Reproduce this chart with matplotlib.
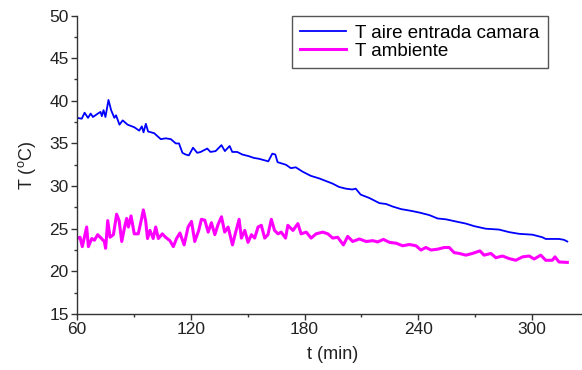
import matplotlib
matplotlib.use("Agg")
import matplotlib.pyplot as plt
from matplotlib.ticker import MultipleLocator

plt.rcParams['font.family'] = ['Liberation Sans', 'DejaVu Sans']

# T aire entrada camara (blue)
t_aire = [60, 62.5, 64, 65.8, 67.2, 68.4, 71, 72.4, 73.1, 74, 75, 76.6, 78, 79.7,
          80.6, 82.4, 84.1, 86.7, 90.2, 92.8, 94.2, 95.1, 96.3, 97.5, 100.7, 104.2,
          106.8, 109.5, 112.1, 113.8, 115.6, 117.3, 119, 121.2, 123.4, 125.2, 128.7,
          130.4, 133.1, 136.2, 138, 140.5, 141.9, 144.5, 147.2, 150.7, 153.3, 156,
          160.9, 163, 164.6, 165.8, 170.2, 172.8, 175.4, 178.9, 183.3, 187.7, 191.2,
          194.7, 198.2, 201.7, 205.2, 207, 209.6, 214.2, 219.5, 223, 226.5, 230.9,
          236.1, 240.5, 245.8, 250.2, 254.6, 259.8, 265.1, 269.5, 275.6, 282.6,
          287.9, 293.2, 300.2, 305.4, 307.2, 314.2, 316.8, 318.6]
T_aire = [38.0, 37.9, 38.6, 38.0, 38.5, 38.1, 38.5, 38.7, 38.2, 38.9, 38.1, 40.1, 38.9, 38.0,
          38.3, 37.2, 37.7, 37.2, 36.9, 36.5, 37.0, 36.3, 37.3, 36.4, 36.2, 35.5,
          35.6, 35.5, 35.0, 35.0, 33.9, 33.7, 33.6, 34.5, 33.9, 34.0, 34.4,
          34.0, 34.1, 34.8, 34.1, 34.7, 34.0, 34.0, 33.7, 33.5, 33.3, 33.2,
          32.9, 33.8, 33.7, 32.8, 32.5, 32.1, 32.2, 31.7, 31.2, 30.9, 30.6,
          30.3, 29.9, 29.7, 29.6, 29.7, 29.0, 28.6, 28.0, 27.9, 27.6, 27.3,
          27.1, 26.9, 26.6, 26.2, 26.1, 25.85, 25.6, 25.3, 25.0, 24.9,
          24.6, 24.4, 24.3, 24.0, 23.8, 23.8, 23.7, 23.5]

# T ambiente (magenta)
t_amb = [60, 61.6, 62.8, 65.1, 66, 67.8, 69.2, 70.9, 72.7, 74.4, 75.1, 76.2, 77.4, 79.2,
         80.9, 82.2, 83.6, 85.3, 86.2, 87.1, 88.5, 90.2, 92.3, 93.7, 95, 96.2, 97.2,
         98.5, 100.2, 101.5, 102.9, 105, 106.7, 109, 110.8, 112.5, 114.3, 116.5,
         118.6, 120.4, 122.1, 124.2, 125.6, 127.4, 129.2, 130.9, 132.7, 134.4,
         136.2, 137.9, 139.7, 142, 143.7, 145.5, 146.7, 148.5, 150.2, 152, 153.7,
         155.5, 157.2, 159, 160.7, 162.5, 164.2, 166, 167.7, 170, 171.2, 173.9,
         176.5, 178.2, 180.9, 183.5, 186.1, 189.6, 192.3, 194.9, 197.5, 200.5,
         202.8, 205.4, 208.9, 212.5, 216, 218.6, 221.6, 224.8, 228.3, 231.8, 235.3,
         238.8, 241.4, 244, 246.7, 250.2, 253.7, 256.3, 258.9, 261.6, 265.1, 268.6,
         272.5, 274.7, 278.3, 280.9, 284.4, 287.9, 291.4, 295, 298.5, 301.1, 304.6,
         307.2, 310.7, 312.1, 314.2, 318.6]
T_amb = [23.85, 24.0, 22.9, 25.2, 22.9, 23.85, 23.65, 24.3, 23.9, 23.5, 22.7, 25.95, 24.0, 24.3,
         26.7, 25.95, 23.5, 25.4, 26.2, 25.2, 26.5, 24.4, 24.4, 25.8, 27.2, 25.95, 23.85,
         24.8, 23.85, 25.2, 23.85, 24.4, 24.0, 23.6, 22.9, 23.85, 24.5, 23.1,
         25.2, 25.85, 23.5, 24.8, 26.1, 26.0, 24.6, 25.7, 24.3, 25.5,
         26.4, 24.6, 25.2, 23.1, 24.6, 26.1, 23.9, 24.8, 23.4, 24.3, 23.9,
         25.2, 25.4, 23.9, 24.3, 26.1, 24.8, 24.4, 24.6, 23.9, 25.4, 24.8,
         25.6, 24.4, 24.6, 23.9, 24.4, 24.6, 24.4, 23.9, 24.0, 23.1,
         24.1, 23.5, 23.8, 23.5, 23.6, 23.45, 23.75, 23.4, 23.3, 23.0, 23.15,
         23.0, 22.5, 22.8, 22.5, 22.6, 22.8, 22.8, 22.2, 22.1, 21.9, 22.1,
         22.4, 21.9, 22.1, 21.6, 21.8, 21.5, 21.3, 21.7, 21.8, 21.45, 21.9,
         21.3, 21.3, 21.7, 21.1, 21.05]

W, H = 582, 370
fig = plt.figure(figsize=(W / 100, H / 100), dpi=100)

# axes placed in pixel terms; right end runs past the figure edge
x_left, x_bottom, x_top = 77, 314, 15.5
px_per_min = 1.896
x_max = 330
ax = fig.add_axes([x_left / W, 1 - x_bottom / H,
                   (x_max - 60) * px_per_min / W, (x_bottom - x_top) / H])

ax.plot(t_aire, T_aire, color='#0000ff', lw=1.3, label='T aire entrada camara')
ax.plot(t_amb, T_amb, color='#ff00ff', lw=2.2, label='T ambiente')

ax.set_xlim(60, x_max)
ax.set_ylim(15, 50)
ax.xaxis.set_major_locator(MultipleLocator(60))
ax.xaxis.set_minor_locator(MultipleLocator(30))
ax.yaxis.set_major_locator(MultipleLocator(5))
ax.yaxis.set_minor_locator(MultipleLocator(2.5))

for s in ['top', 'right']:
    ax.spines[s].set_visible(False)
for s in ['left', 'bottom']:
    ax.spines[s].set_color('#333333')
    ax.spines[s].set_linewidth(1.0)

ax.tick_params(which='major', direction='out', length=4, width=1, labelsize=12.5,
               colors='#333333', labelcolor='#222222', pad=2)
ax.tick_params(which='minor', direction='out', length=2.5, width=1, colors='#333333')

ax.set_xlabel('t (min)', fontsize=13, color='#222222', labelpad=6)
ax.set_ylabel(r'T ($\mathregular{^o}$C)', fontsize=13, color='#222222', labelpad=8)

leg = fig.legend(loc='upper left', bbox_to_anchor=(292 / W, 1 - 16 / H),
                 fontsize=13.5, handlelength=2.45, handletextpad=0.45,
                 borderpad=0.45, labelspacing=0.05, fancybox=False, framealpha=1,
                 edgecolor='#555555', borderaxespad=0)
leg.get_frame().set_linewidth(1.0)

fig.savefig('out.png', dpi=100)
